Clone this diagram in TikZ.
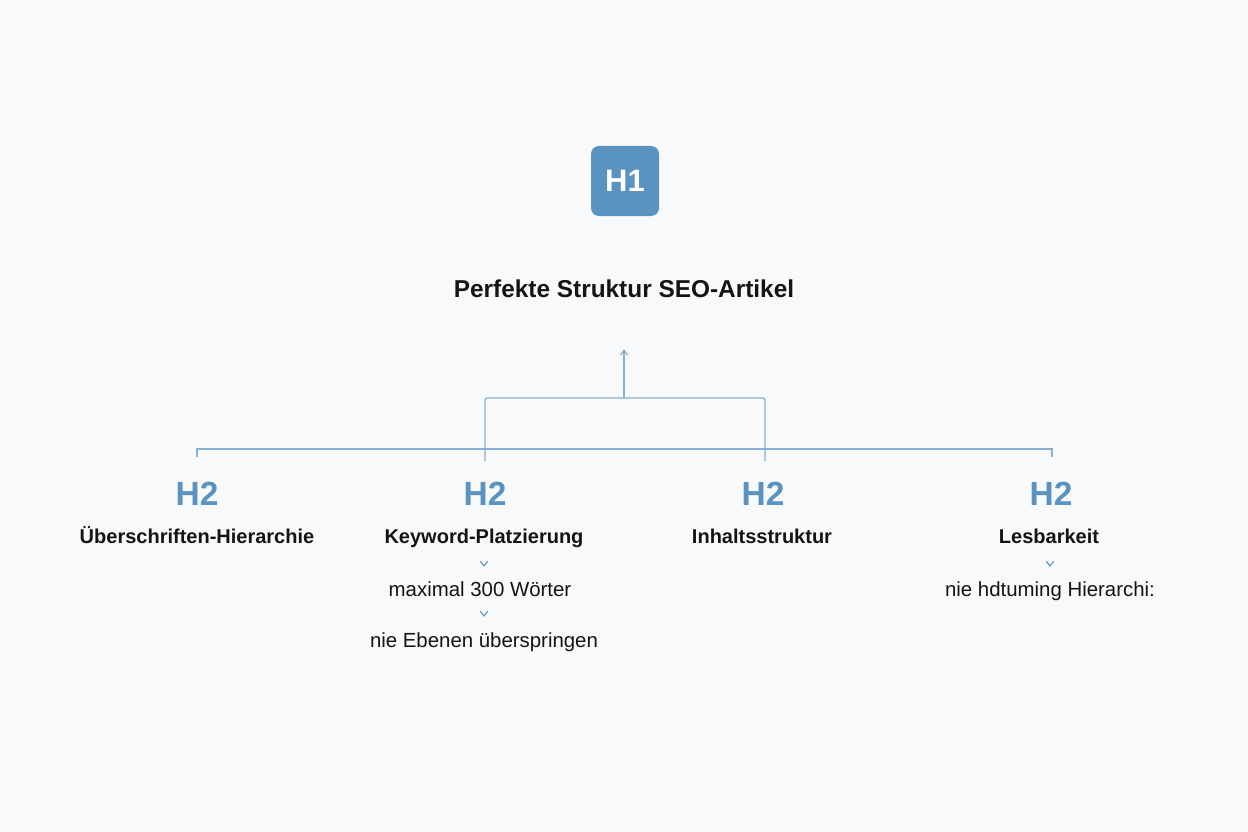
\documentclass[tikz,border=0pt]{standalone}
\usepackage{fontspec}
\setmainfont{Liberation Sans}
\usetikzlibrary{arrows.meta}
\definecolor{bg}{HTML}{F8F9FB}
\definecolor{hblue}{HTML}{5A93C0}
\definecolor{lineblue}{HTML}{86B1D4}
\definecolor{ink}{HTML}{141414}
\begin{document}
\begin{tikzpicture}[x=1pt,y=-1pt,
  h1box/.style={fill=hblue, rounded corners=8pt, minimum width=68pt, minimum height=70pt, inner sep=0pt,
    text=white, font=\fontsize{31}{31}\selectfont\bfseries},
  titlestyle/.style={font=\fontsize{24.4}{24.4}\selectfont\bfseries, text=ink, inner sep=0pt, anchor=base},
  h2/.style={font=\fontsize{33.5}{33.5}\selectfont\bfseries, text=hblue, inner sep=0pt, anchor=base},
  sub/.style={font=\fontsize{20}{20}\selectfont\bfseries, text=ink, inner sep=0pt, anchor=base},
  detail/.style={font=\fontsize{20.4}{20.4}\selectfont, text=ink, inner sep=0pt, anchor=base},
  conn/.style={draw=lineblue, line width=1.3pt},
  chev/.style={draw=hblue, line width=1.1pt, line cap=round, line join=round}]
\fill[bg] (0,0) rectangle (1248,832);
\useasboundingbox (0,0) rectangle (1248,832);

\node[h1box] (h1) at (625,181) {H1};
\node[titlestyle] (title) at (624,297) {Perfekte Struktur SEO-Artikel};

% H2 headings
\node[h2] (h2a) at (197,505) {H2};
\node[h2] (h2b) at (485,505) {H2};
\node[h2] (h2c) at (763,505) {H2};
\node[h2] (h2d) at (1051,505) {H2};

\node[sub] (sa) at (197,543) {Überschriften-Hierarchie};
\node[sub] (sb) at (484,543) {Keyword-Platzierung};
\node[sub] (sc) at (762,543) {Inhaltsstruktur};
\node[sub] (sd) at (1049,543) {Lesbarkeit};

\node[detail] (db1) at (480,596) {maximal 300 Wörter};
\node[detail] (db2) at (484,647) {nie Ebenen überspringen};
\node[detail] (dd1) at (1050,596) {nie hdtuming Hierarchi:};

% chevrons
\draw[chev] (480.5,561.5) -- (484,566) -- (487.5,561.5);
\draw[chev] (480.5,611.5) -- (484,616) -- (487.5,611.5);
\draw[chev] (1046.5,561.5) -- (1050,566) -- (1053.5,561.5);

% connectors
\coordinate (busL) at (197,449);
\coordinate (busR) at (1052,449);
\coordinate (tickL) at (197,457);
\coordinate (tickR) at (1052,457);
\coordinate (brL) at (485,461);
\coordinate (brR) at (765,461);
\coordinate (brTop) at (624,398);
\coordinate (arrowTip) at (624,349);
\draw[conn] (tickL) -- (busL) -- (busR) -- (tickR);
\draw[conn, rounded corners=2pt] (brL) |- (brTop) -| (brR);
\draw[conn, -{Straight Barb[length=5pt,width=7pt]}] (brTop) -- (arrowTip);
\end{tikzpicture}
\end{document}
